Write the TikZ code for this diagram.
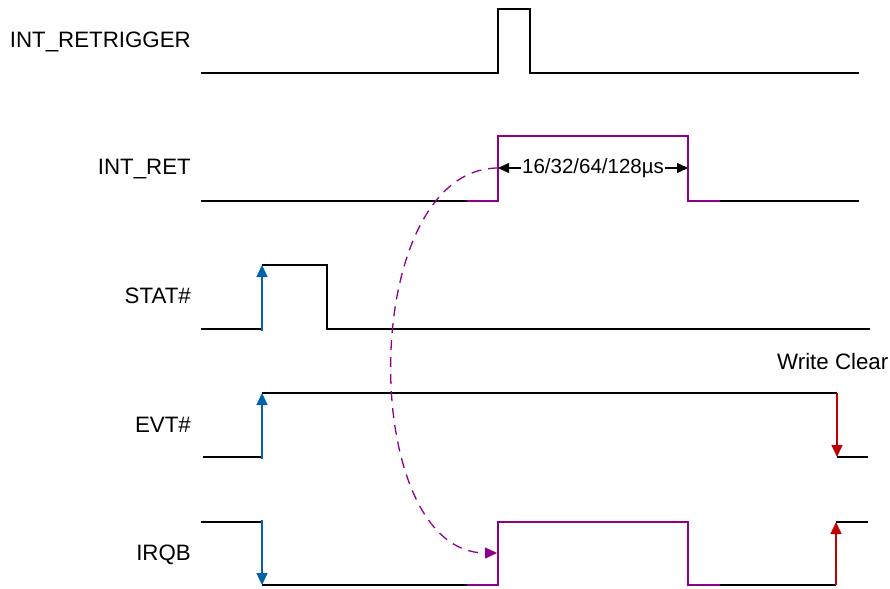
\documentclass[tikz,border=0pt]{standalone}
\usepackage{fontspec}
\setmainfont{Liberation Sans}
\usetikzlibrary{arrows.meta}
\definecolor{sigpurple}{RGB}{140,0,140}
\definecolor{edgeblue}{RGB}{0,98,172}
\definecolor{edgered}{RGB}{192,0,0}
\tikzset{
  wave/.style={line width=1.4pt,black},
  hold/.style={line width=1.4pt,sigpurple},
  edgeup/.style={line width=1.4pt,-{Triangle[length=12pt,width=11pt]}},
  sig/.style={anchor=east,inner sep=0pt,font=\fontsize{22.3}{25}\selectfont},
}
\begin{document}
\begin{tikzpicture}[x=1pt,y=-1pt]
        \useasboundingbox (0,0) rectangle (890,588);
        % signal names
        \node[sig] (retrig) at (191,42){INT\_RETRIGGER};
        \node[sig] (ret) at (191,169){INT\_RET};
        \node[sig] (stat) at (191,296){STAT\#};
        \node[sig] (evt) at (191,425){EVT\#};
        \node[sig] (irqb) at (191,555){IRQB};
        \node[sig,anchor=west] (wclr) at (777,362){Write Clear};
        % INT_RETRIGGER
        \draw[wave] (201,73) -- (498,73) -- (498,9) -- (530,9) -- (530,73) -- (859,73);
        % INT_RET
        \draw[wave] (201,201) -- (467,201);
        \draw[hold] (467,201) -- (498,201) -- (498,136) -- (688,136) -- (688,201) -- (720,201);
        \draw[wave] (720,201) -- (859,201);
        \node[inner sep=1pt,font=\fontsize{20.5}{22}\selectfont] (period) at (593,168){16/32/64/128µs};
        \coordinate (retrise) at (498,168);
        \coordinate (retfall) at (688,168);
        \draw[line width=1.3pt,-{Triangle[length=11pt,width=10pt]}] (period.west) -- (retrise);
        \draw[line width=1.3pt,-{Triangle[length=11pt,width=10pt]}] (period.east) -- (retfall);
        % STAT#
        \draw[wave] (201,329) -- (262,329);
        \draw[wave] (262,265) -- (327,265) -- (327,329) -- (870,329);
        \draw[edgeup,edgeblue] (262,331) -- (262,265);
        % EVT#
        \draw[wave] (203,457) -- (262,457);
        \draw[wave] (262,393) -- (837,393);
        \draw[wave] (837,457) -- (868,457);
        \draw[edgeup,edgeblue] (262,459) -- (262,393);
        \draw[edgeup,edgered] (837,393) -- (837,457);
        % IRQB
        \draw[wave] (201,522) -- (262,522);
        \draw[wave] (262,585) -- (467,585);
        \draw[hold] (467,585) -- (498,585) -- (498,522) -- (688,522) -- (688,585) -- (720,585);
        \draw[wave] (720,585) -- (836,585);
        \draw[wave] (836,522) -- (868,522);
        \draw[edgeup,edgeblue] (262,520) -- (262,585);
        \draw[edgeup,edgered] (836,585) -- (836,522);
        % retrigger to IRQB
        \coordinate (irqrise) at (497,553);
        \draw[line width=1.3pt,sigpurple,dash pattern=on 10pt off 7pt,-{Triangle[length=12pt,width=11pt]}]
          (retrise) .. controls (357,169) and (357,553) .. (irqrise);
\end{tikzpicture}
\end{document}
